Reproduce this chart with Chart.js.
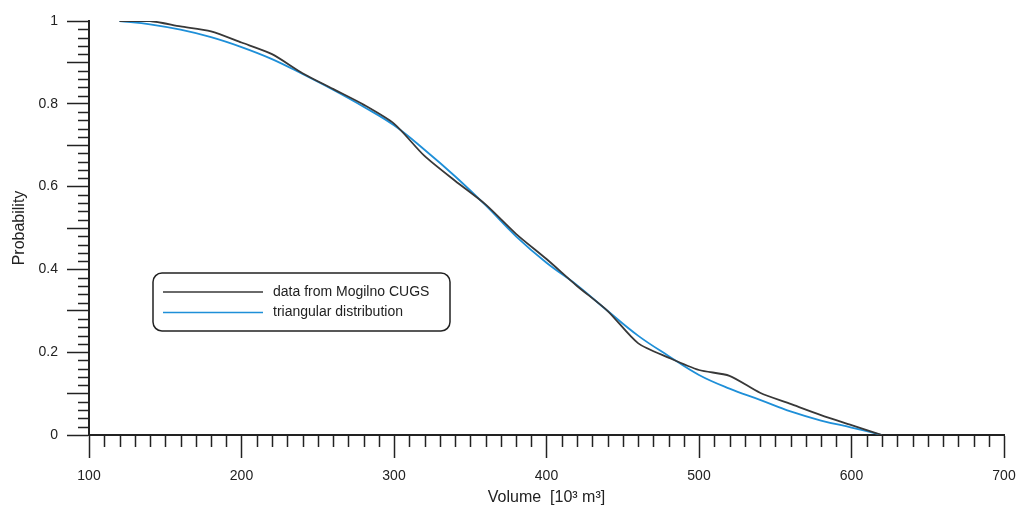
<!DOCTYPE html>
<html>
<head>
<meta charset="utf-8">
<script src="https://cdn.jsdelivr.net/npm/chart.js@4"></script>
<style>
  html, body { margin: 0; padding: 0; background: #fff; }
  #wrap { width: 1018px; height: 505px; }
</style>
</head>
<body>
<div id="wrap"><canvas id="probChart" width="1018" height="505"></canvas></div>
<script>
// volume [10^3 m^3]
const volumes = [120, 140, 160, 180, 200, 220, 240, 260, 280, 300, 320, 340, 360,
                 380, 400, 420, 440, 460, 480, 500, 520, 540, 560, 580, 600, 620];
// data from Mogilno CUGS
const mogilnoValues = [1.0, 1.0, 0.987, 0.975, 0.948, 0.92, 0.874, 0.836, 0.798, 0.752,
                       0.674, 0.614, 0.557, 0.486, 0.425, 0.36, 0.30, 0.222, 0.187, 0.157,
                       0.143, 0.102, 0.075, 0.048, 0.024, 0.0];
// triangular distribution
const triangValues = [1.0, 0.992, 0.979, 0.961, 0.937, 0.908, 0.872, 0.834, 0.793, 0.748,
                      0.689, 0.625, 0.555, 0.48, 0.416, 0.362, 0.30, 0.24, 0.191, 0.145,
                      0.112, 0.085, 0.057, 0.035, 0.018, 0.0];

const xTicks = [100, 200, 300, 400, 500, 600, 700];
const yTicks = [0, 0.2, 0.4, 0.6, 0.8, 1];

const seriesLabels = ['data from Mogilno CUGS', 'triangular distribution'];
const seriesColors = ['#383838', '#1e8fd8'];

function toPoints(xs, ys) {
    return xs.map((x, i) => ({ x: x, y: ys[i] }));
}

// minor tick marks (library only gives one tick length)
const minorTicks = {
    id: 'minorTicks',
    afterDraw(chart) {
        const ctx = chart.ctx;
        const xs = chart.scales.x;
        const ys = chart.scales.y;
        const area = chart.chartArea;
        ctx.save();
        ctx.strokeStyle = '#222';
        ctx.lineWidth = 1.5;
        ctx.beginPath();
        for (let v = 110; v < 700; v += 10) {
            if (v % 100 === 0) continue;
            const px = Math.round(xs.getPixelForValue(v)) + 0.5;
            ctx.moveTo(px, area.bottom);
            ctx.lineTo(px, area.bottom + 12);
        }
        for (let k = 1; k < 50; k++) {
            if (k % 5 === 0) continue;
            const py = Math.round(ys.getPixelForValue(k * 0.02)) + 0.5;
            ctx.moveTo(area.left - 11, py);
            ctx.lineTo(area.left, py);
        }
        ctx.stroke();
        ctx.restore();
    }
};

// legend box drawn inside the plot
const boxLegend = {
    id: 'boxLegend',
    afterDraw(chart) {
        const ctx = chart.ctx;
        const x0 = 153, y0 = 273, w = 297, h = 58, r = 9;
        ctx.save();
        ctx.fillStyle = '#fff';
        ctx.strokeStyle = '#222';
        ctx.lineWidth = 1.5;
        ctx.beginPath();
        ctx.roundRect(x0, y0, w, h, r);
        ctx.fill();
        ctx.stroke();
        ctx.font = '14px "Liberation Sans", Arial, sans-serif';
        ctx.textBaseline = 'middle';
        chart.data.datasets.forEach((ds, i) => {
            const yy = 292 + i * 20.5;
            ctx.strokeStyle = ds.borderColor;
            ctx.lineWidth = 1.5;
            ctx.beginPath();
            ctx.moveTo(163, yy);
            ctx.lineTo(263, yy);
            ctx.stroke();
            ctx.fillStyle = '#222';
            ctx.fillText(ds.label, 273, yy);
        });
        ctx.restore();
    }
};

new Chart(document.getElementById('probChart').getContext('2d'), {
    type: 'line',
    data: {
        datasets: [
            {
                label: seriesLabels[0],
                data: toPoints(volumes, mogilnoValues),
                borderColor: seriesColors[0],
                borderWidth: 1.8,
                pointRadius: 0,
                fill: false,
                tension: 0.25
            },
            {
                label: seriesLabels[1],
                data: toPoints(volumes, triangValues),
                borderColor: seriesColors[1],
                borderWidth: 1.8,
                pointRadius: 0,
                fill: false,
                tension: 0.4
            }
        ]
    },
    options: {
        responsive: false,
        animation: false,
        devicePixelRatio: 1,
        layout: { padding: { left: 0, right: 14, top: 21, bottom: 0 } },
        plugins: {
            legend: { display: false },
            tooltip: { enabled: false }
        },
        scales: {
            x: {
                type: 'linear',
                min: 100,
                max: 700,
                afterBuildTicks: scale => { scale.ticks = xTicks.map(v => ({ value: v })); },
                afterFit: scale => {
                    scale.height = 70;
                    scale.paddingRight = 0;
                    scale.paddingLeft = 0;
                },
                grid: { display: true, drawOnChartArea: false, tickLength: 23, tickWidth: 1.5, tickColor: '#222' },
                border: { display: true, color: '#222', width: 2 },
                ticks: {
                    padding: 10,
                    color: '#222',
                    font: { family: '"Liberation Sans", Arial, sans-serif', size: 14 },
                    maxRotation: 0
                },
                title: {
                    display: true,
                    text: 'Volume  [10³ m³]',
                    color: '#222',
                    padding: { top: 0, bottom: -2 },
                    font: { family: '"Liberation Sans", Arial, sans-serif', size: 16 }
                }
            },
            y: {
                min: 0,
                max: 1,
                afterBuildTicks: scale => {
                    const t = [];
                    for (let k = 0; k <= 10; k++) t.push({ value: k / 10 });
                    scale.ticks = t;
                },
                afterFit: scale => { scale.width = 89; },
                grid: { display: true, drawOnChartArea: false, tickLength: 22, tickWidth: 1.5, tickColor: '#222' },
                border: { display: true, color: '#222', width: 2 },
                ticks: {
                    padding: 9,
                    color: '#222',
                    font: { family: '"Liberation Sans", Arial, sans-serif', size: 14 },
                    callback: v => {
                        const r = Math.round(v * 10) / 10;
                        return yTicks.some(t => Math.abs(t - r) < 1e-9) ? String(r) : '';
                    }
                },
                title: {
                    display: true,
                    text: 'Probability',
                    color: '#222',
                    padding: { top: 10, bottom: 0 },
                    font: { family: '"Liberation Sans", Arial, sans-serif', size: 16 }
                }
            }
        }
    },
    plugins: [minorTicks, boxLegend]
});
</script>
</body>
</html>
